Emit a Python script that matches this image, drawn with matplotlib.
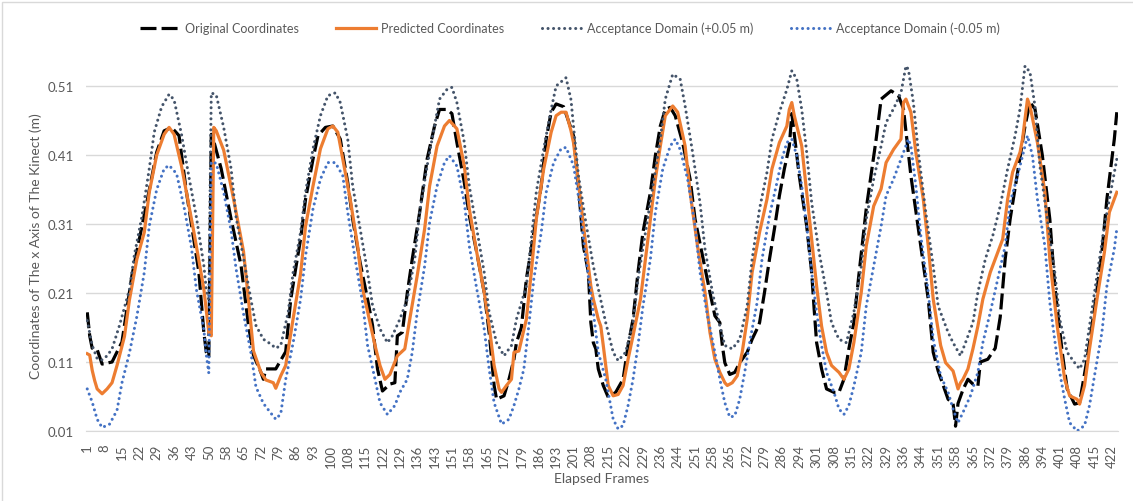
import matplotlib
matplotlib.use("Agg")
import matplotlib.pyplot as plt
from matplotlib.patches import Rectangle

plt.rcParams['font.family'] = ['Lato', 'DejaVu Sans']

# frame labels shown every 7th sample on the category axis
frame_labels = [1, 8, 15, 22, 29, 36, 43, 50, 58, 65, 72, 79, 86, 93, 100, 108,
                115, 122, 129, 136, 143, 151, 158, 165, 172, 179, 186, 193, 201,
                208, 215, 222, 229, 236, 244, 251, 258, 265, 272, 279, 286, 294,
                301, 308, 315, 322, 329, 336, 344, 351, 358, 365, 372, 379, 386,
                394, 401, 408, 415, 422]
n_samples = 416

# original coordinates (sample index, x in m)
orig_i = [0, 1, 2, 4, 6, 10, 14, 18, 24, 28, 31, 34, 37, 40, 45, 47, 48, 49, 50, 51,
          54, 58, 62, 65, 67, 70, 71, 72, 76, 80, 82, 84, 86, 88, 91, 93, 96, 99, 102,
          105, 107, 110, 113, 115, 117, 119, 122, 124, 125, 127, 129, 131, 134, 137,
          140, 142, 145, 147, 149, 152, 154, 157, 160, 162, 164, 165, 168, 170, 172,
          173, 175, 177, 180, 183, 185, 187, 189, 192, 196, 198, 200, 202, 203, 204,
          205, 206, 208, 210, 213, 216, 218, 220, 222, 224, 227, 229, 231, 233, 235,
          237, 240, 243, 245, 248, 251, 253, 255, 256, 257, 259, 261, 263, 266, 268,
          270, 271, 273, 275, 277, 279, 281, 283, 284, 285, 287, 290, 292, 293, 294,
          296, 298, 301, 303, 305, 307, 309, 311, 314, 318, 320, 324, 327, 329, 332,
          336, 339, 341, 343, 346, 347, 349, 350, 351, 352, 353, 355, 357, 359, 360,
          363, 366, 368, 370, 372, 375, 378, 380, 382, 385, 388, 390, 393, 395, 398,
          400, 403, 406, 409, 411, 414, 415]
orig_v = [0.182, 0.148, 0.130, 0.128, 0.107, 0.110, 0.139, 0.235, 0.341, 0.414,
          0.445, 0.450, 0.438, 0.356, 0.240, 0.153, 0.124, 0.117, 0.440, 0.430,
          0.390, 0.317, 0.250, 0.163, 0.120, 0.095, 0.085, 0.100, 0.100, 0.125,
          0.200, 0.245, 0.288, 0.346, 0.404, 0.438, 0.450, 0.452, 0.433, 0.370,
          0.317, 0.254, 0.201, 0.163, 0.100, 0.068, 0.078, 0.080, 0.148, 0.153,
          0.210, 0.259, 0.327, 0.404, 0.452, 0.476, 0.476, 0.470, 0.428, 0.370,
          0.322, 0.269, 0.211, 0.153, 0.076, 0.056, 0.061, 0.085, 0.114, 0.138,
          0.160, 0.230, 0.298, 0.365, 0.433, 0.472, 0.484, 0.480, 0.438, 0.365,
          0.278, 0.240, 0.167, 0.138, 0.129, 0.100, 0.076, 0.059, 0.066, 0.085,
          0.134, 0.172, 0.240, 0.298, 0.356, 0.409, 0.452, 0.476, 0.479, 0.467,
          0.428, 0.375, 0.317, 0.264, 0.211, 0.177, 0.167, 0.134, 0.109, 0.092,
          0.095, 0.109, 0.124, 0.143, 0.158, 0.167, 0.211, 0.259, 0.303, 0.351,
          0.390, 0.423, 0.470, 0.440, 0.380, 0.307, 0.240, 0.187, 0.138, 0.100,
          0.071, 0.066, 0.066, 0.085, 0.129, 0.167, 0.235, 0.332, 0.433, 0.491,
          0.503, 0.496, 0.477, 0.380, 0.278, 0.201, 0.124, 0.097, 0.066, 0.056,
          0.050, 0.017, 0.050, 0.060, 0.070, 0.085, 0.078, 0.075, 0.110, 0.114,
          0.130, 0.175, 0.259, 0.317, 0.385, 0.452, 0.486, 0.477, 0.409, 0.317,
          0.220, 0.124, 0.071, 0.049, 0.051, 0.114, 0.187, 0.269, 0.346, 0.433,
          0.472]

# predicted coordinates
pred_i = [0, 1, 2, 3, 4, 6, 8, 10, 12, 15, 17, 20, 23, 25, 28, 31, 33, 35, 38, 43,
          47, 49, 50, 51, 52, 55, 59, 63, 65, 67, 70, 72, 75, 76, 78, 80, 83, 86, 88,
          91, 94, 97, 99, 101, 103, 106, 109, 111, 114, 116, 118, 120, 122, 125, 128,
          130, 133, 136, 138, 141, 144, 146, 149, 152, 154, 157, 160, 162, 164, 166,
          167, 169, 171, 172, 174, 177, 179, 181, 184, 187, 189, 191, 193, 195, 196,
          198, 201, 203, 204, 206, 207, 208, 210, 212, 214, 216, 218, 220, 223, 225,
          227, 229, 231, 233, 236, 238, 241, 243, 246, 249, 251, 253, 255, 257, 258,
          260, 262, 264, 266, 268, 271, 274, 276, 279, 282, 283, 284, 285, 288, 290,
          292, 294, 296, 298, 300, 303, 305, 307, 309, 312, 314, 317, 320, 322, 325,
          327, 328, 329, 330, 332, 334, 337, 339, 341, 344, 346, 349, 351, 352, 353,
          355, 357, 359, 361, 364, 367, 369, 371, 373, 376, 377, 379, 380, 383, 386,
          388, 391, 394, 396, 399, 400, 402, 404, 407, 410, 412, 415]
pred_v = [0.122, 0.120, 0.098, 0.083, 0.071, 0.064, 0.071, 0.080, 0.105, 0.147,
          0.200, 0.259, 0.298, 0.356, 0.410, 0.440, 0.450, 0.440, 0.394, 0.298,
          0.216, 0.153, 0.148, 0.450, 0.445, 0.417, 0.346, 0.270, 0.200, 0.126,
          0.095, 0.084, 0.080, 0.072, 0.090, 0.105, 0.173, 0.238, 0.307, 0.365,
          0.419, 0.448, 0.452, 0.443, 0.404, 0.346, 0.278, 0.216, 0.167, 0.134,
          0.105, 0.085, 0.092, 0.119, 0.129, 0.172, 0.235, 0.303, 0.365, 0.423,
          0.452, 0.460, 0.448, 0.394, 0.332, 0.269, 0.211, 0.163, 0.105, 0.071,
          0.066, 0.076, 0.085, 0.124, 0.126, 0.172, 0.240, 0.317, 0.390, 0.443,
          0.467, 0.472, 0.472, 0.445, 0.428, 0.370, 0.278, 0.220, 0.201, 0.172,
          0.162, 0.134, 0.076, 0.061, 0.063, 0.076, 0.114, 0.148, 0.201, 0.259,
          0.317, 0.375, 0.423, 0.467, 0.481, 0.472, 0.423, 0.356, 0.278, 0.211,
          0.153, 0.114, 0.095, 0.080, 0.076, 0.080, 0.090, 0.124, 0.172, 0.240,
          0.298, 0.346, 0.390, 0.428, 0.452, 0.476, 0.486, 0.467, 0.423, 0.356,
          0.288, 0.220, 0.162, 0.124, 0.105, 0.095, 0.085, 0.100, 0.138, 0.211,
          0.278, 0.336, 0.361, 0.399, 0.418, 0.428, 0.433, 0.486, 0.491, 0.472,
          0.414, 0.346, 0.278, 0.201, 0.134, 0.109, 0.097, 0.071, 0.080, 0.085,
          0.100, 0.129, 0.162, 0.201, 0.240, 0.269, 0.288, 0.346, 0.385, 0.414,
          0.433, 0.491, 0.481, 0.428, 0.356, 0.259, 0.162, 0.085, 0.061, 0.056,
          0.049, 0.076, 0.129, 0.201, 0.269, 0.327, 0.356]

# acceptance domain, +0.05 m
upper_i = [0, 2, 4, 6, 8, 10, 13, 17, 19, 22, 25, 27, 30, 33, 35, 38, 41, 44, 47, 48,
           49, 50, 52, 55, 58, 60, 63, 66, 68, 71, 74, 76, 78, 81, 83, 86, 88, 91, 94,
           97, 100, 102, 105, 107, 110, 113, 115, 118, 121, 123, 126, 129, 132, 134,
           137, 140, 142, 145, 147, 149, 152, 154, 157, 160, 162, 165, 168, 171, 173,
           177, 179, 181, 184, 187, 189, 193, 195, 196, 198, 201, 204, 206, 209, 212,
           214, 217, 220, 222, 225, 228, 231, 233, 236, 239, 241, 244, 247, 249, 252,
           255, 257, 260, 263, 266, 268, 271, 274, 276, 279, 282, 284, 286, 288, 290,
           292, 295, 298, 300, 303, 306, 309, 312, 314, 317, 320, 322, 325, 328, 330,
           331, 333, 335, 338, 341, 343, 347, 349, 352, 354, 357, 359, 362, 365, 368,
           371, 374, 376, 378, 380, 382, 384, 387, 390, 392, 395, 398, 400, 402, 404,
           407, 410, 413, 415]
upper_v = [0.170, 0.134, 0.115, 0.113, 0.119, 0.129, 0.163, 0.215, 0.265, 0.320,
           0.390, 0.443, 0.480, 0.498, 0.490, 0.440, 0.378, 0.320, 0.250, 0.215,
           0.200, 0.500, 0.497, 0.450, 0.390, 0.320, 0.260, 0.200, 0.163, 0.143,
           0.136, 0.130, 0.134, 0.182, 0.240, 0.298, 0.356, 0.419, 0.467, 0.496,
           0.500, 0.486, 0.433, 0.365, 0.303, 0.240, 0.192, 0.158, 0.138, 0.148,
           0.172, 0.201, 0.259, 0.327, 0.394, 0.452, 0.491, 0.505, 0.508, 0.486,
           0.428, 0.365, 0.303, 0.240, 0.182, 0.138, 0.119, 0.134, 0.172, 0.220,
           0.288, 0.356, 0.419, 0.476, 0.510, 0.522, 0.490, 0.452, 0.380, 0.312,
           0.249, 0.216, 0.167, 0.124, 0.112, 0.124, 0.167, 0.230, 0.298, 0.365,
           0.433, 0.491, 0.527, 0.520, 0.481, 0.414, 0.341, 0.274, 0.211, 0.162,
           0.134, 0.129, 0.143, 0.191, 0.259, 0.332, 0.385, 0.433, 0.472, 0.505,
           0.532, 0.520, 0.476, 0.414, 0.341, 0.269, 0.211, 0.167, 0.143, 0.138,
           0.182, 0.249, 0.317, 0.375, 0.423, 0.457, 0.477, 0.500, 0.539, 0.534,
           0.486, 0.414, 0.327, 0.249, 0.191, 0.153, 0.138, 0.119, 0.138, 0.167,
           0.211, 0.259, 0.293, 0.336, 0.390, 0.438, 0.477, 0.539, 0.530, 0.481,
           0.394, 0.317, 0.240, 0.172, 0.124, 0.109, 0.100, 0.114, 0.162, 0.235,
           0.307, 0.365, 0.404]

# acceptance domain, -0.05 m
lower_i = [0, 2, 4, 6, 9, 12, 14, 17, 20, 23, 25, 28, 31, 33, 36, 39, 42, 44, 47, 48,
           49, 50, 52, 55, 58, 60, 63, 66, 68, 71, 74, 76, 78, 80, 83, 86, 88, 91, 94,
           97, 100, 103, 105, 108, 111, 113, 116, 118, 121, 124, 126, 129, 131, 133,
           136, 138, 141, 144, 146, 149, 152, 154, 157, 160, 162, 164, 167, 170, 172,
           174, 176, 178, 180, 183, 185, 188, 191, 193, 196, 198, 201, 204, 206, 209,
           212, 214, 216, 218, 220, 222, 224, 227, 229, 232, 235, 237, 239, 242, 245,
           247, 250, 253, 255, 257, 259, 261, 263, 265, 267, 270, 272, 275, 278, 280,
           282, 284, 286, 288, 290, 292, 294, 296, 298, 301, 303, 305, 307, 309, 312,
           314, 317, 320, 322, 325, 328, 331, 332, 334, 336, 339, 341, 344, 347, 349,
           351, 353, 356, 359, 361, 364, 367, 370, 372, 375, 378, 379, 381, 383, 386,
           388, 391, 394, 396, 399, 402, 404, 406, 409, 411, 414, 415]
lower_v = [0.071, 0.052, 0.027, 0.015, 0.020, 0.040, 0.080, 0.123, 0.176, 0.240,
           0.307, 0.360, 0.390, 0.395, 0.383, 0.335, 0.276, 0.215, 0.157, 0.120,
           0.094, 0.400, 0.398, 0.356, 0.300, 0.245, 0.180, 0.123, 0.074, 0.050,
           0.036, 0.027, 0.035, 0.085, 0.138, 0.201, 0.264, 0.332, 0.375, 0.399,
           0.399, 0.380, 0.327, 0.259, 0.196, 0.134, 0.085, 0.051, 0.034, 0.047,
           0.066, 0.085, 0.124, 0.182, 0.249, 0.312, 0.365, 0.399, 0.409, 0.394,
           0.341, 0.278, 0.216, 0.158, 0.100, 0.051, 0.020, 0.027, 0.047, 0.071,
           0.100, 0.163, 0.230, 0.298, 0.356, 0.399, 0.419, 0.421, 0.395, 0.350,
           0.259, 0.182, 0.124, 0.085, 0.027, 0.013, 0.018, 0.047, 0.085, 0.134,
           0.191, 0.259, 0.327, 0.390, 0.423, 0.433, 0.418, 0.375, 0.307, 0.240,
           0.177, 0.124, 0.085, 0.051, 0.030, 0.032, 0.056, 0.095, 0.138, 0.196,
           0.259, 0.322, 0.370, 0.404, 0.428, 0.433, 0.409, 0.365, 0.307, 0.240,
           0.182, 0.134, 0.095, 0.066, 0.042, 0.034, 0.047, 0.075, 0.124, 0.191,
           0.249, 0.307, 0.351, 0.375, 0.404, 0.433, 0.423, 0.365, 0.293, 0.211,
           0.143, 0.090, 0.066, 0.042, 0.022, 0.037, 0.061, 0.095, 0.138, 0.182,
           0.230, 0.278, 0.341, 0.380, 0.423, 0.438, 0.409, 0.346, 0.278, 0.196,
           0.114, 0.056, 0.022, 0.010, 0.018, 0.047, 0.090, 0.153, 0.220, 0.274,
           0.303]

yticks = [0.01, 0.11, 0.21, 0.31, 0.41, 0.51]

txt = '#595959'
fig = plt.figure(figsize=(11.33, 5.02), dpi=100)
ax = fig.add_axes([0.0759, 0.1394, 0.9109, 0.7423])

dots = dict(lw=2.2, dashes=(0.01, 1.8), dash_capstyle='round')
ax.plot(orig_i, orig_v, color='black', lw=2.3, dashes=(5, 1.6),
        dash_capstyle='butt', label='Original Coordinates')
ax.plot(pred_i, pred_v, color='#ED7D31', lw=2.3, solid_joinstyle='round',
        label='Predicted Coordinates')
ax.plot(upper_i, upper_v, color='#44546A', label='Acceptance Domain (+0.05 m)',
        **dots)
ax.plot(lower_i, lower_v, color='#4472C4', label='Acceptance Domain (-0.05 m)',
        clip_on=False, **dots)

ax.set_xlim(-0.5, n_samples - 0.5)
ax.set_ylim(0.01, 0.55)
ax.set_yticks(yticks)
ax.set_yticklabels(['%.2f' % v for v in yticks])
ax.set_xticks(range(0, 7 * len(frame_labels), 7))
ax.set_xticklabels([str(f) for f in frame_labels], rotation=90)
ax.tick_params(axis='both', length=0, labelsize=9.5, colors=txt)
ax.tick_params(axis='x', pad=9)
ax.tick_params(axis='y', pad=9)

ax.grid(axis='y', color='#D9D9D9', lw=1.0)
ax.set_axisbelow(True)
for s in ['top', 'right', 'left']:
    ax.spines[s].set_visible(False)
ax.spines['bottom'].set_color('#D9D9D9')

ax.set_xlabel('Elapsed Frames', fontsize=10, color=txt, labelpad=4)
ax.set_ylabel('Coordinates of The x Axis of The Kinect (m)', fontsize=10,
              color=txt, labelpad=4)

leg = fig.legend(loc='center', bbox_to_anchor=(0.503, 0.942), ncol=4,
                 frameon=False, fontsize=9, handlelength=3.2, columnspacing=3.0,
                 handletextpad=0.4)
for t in leg.get_texts():
    t.set_color(txt)

# light chart-area border
fig.patches.append(Rectangle((0.002, -0.01), 1.1, 1.005, transform=fig.transFigure,
                             fill=False, ec='#D9D9D9', lw=1.0))

fig.savefig('out.png', dpi=100)
